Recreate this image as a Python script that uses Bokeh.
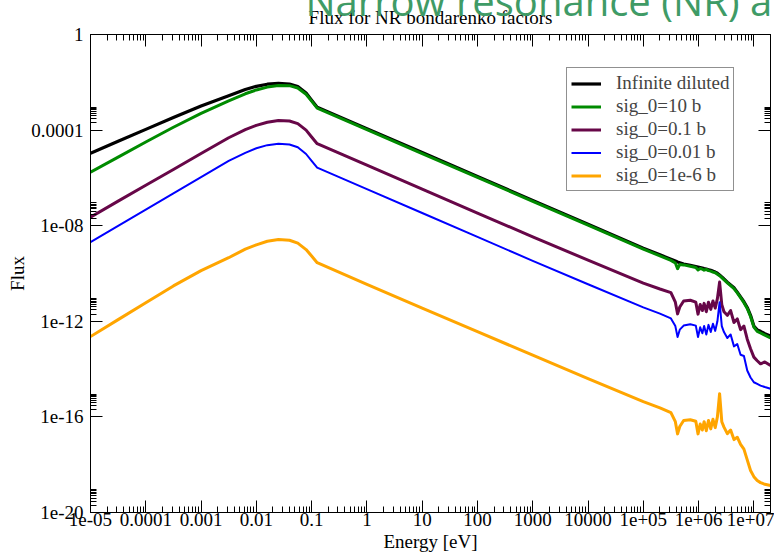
import numpy as np
from bokeh.plotting import figure
from bokeh.models import (Range1d, LogAxis, FixedTicker, CustomJSTickFormatter,
                          Legend, LegendItem, Title)
from bokeh.embed import file_html
from bokeh.resources import INLINE

# ---------------- data ----------------
energy_eV = [1e-5, 3.16e-5, 1e-4, 3.16e-4, 1e-3, 3.16e-3, 6.31e-3, 1e-2, 1.58e-2, 2.51e-2,
             3.98e-2, 5.62e-2, 7.94e-2, 0.1, 0.126, 1, 10, 100, 1e3, 1e4,
             1e5, 2e5, 3.16e5, 3.8e5, 4.17e5, 4.57e5, 5.37e5, 7.08e5, 8.91e5, 9.77e5,
             1.07e6, 1.17e6, 1.26e6, 1.38e6, 1.51e6, 1.66e6, 1.82e6, 2e6, 2.19e6, 2.4e6,
             2.63e6, 2.88e6, 3.31e6, 3.8e6, 4.37e6, 5.01e6, 5.75e6, 6.61e6, 7.59e6, 8.71e6,
             1e7, 1.15e7, 1.32e7, 1.58e7, 2e7]

# log10 of the flux
log_flux_inf = [-4.97, -4.47, -3.97, -3.47, -2.99, -2.56, -2.30, -2.17, -2.08, -2.04,
                -2.07, -2.18, -2.45, -2.75, -3.04, -3.94, -4.94, -5.94, -6.94, -7.94,
                -8.94, -9.22, -9.40, -9.48, -9.52, -9.55, -9.60, -9.66, -9.71, -9.73,
                -9.75, -9.77, -9.79, -9.81, -9.84, -9.87, -9.90, -9.94, -9.99, -10.06,
                -10.14, -10.23, -10.36, -10.48, -10.60, -10.78, -10.98, -11.18, -11.42, -11.75,
                -12.20, -12.36, -12.42, -12.52, -12.62]
log_flux_10b = [-5.76, -5.13, -4.50, -3.88, -3.30, -2.78, -2.48, -2.32, -2.20, -2.13,
                -2.14, -2.24, -2.50, -2.79, -3.08, -3.98, -4.98, -5.98, -6.98, -7.98,
                -8.98, -9.26, -9.45, -9.56, -9.80, -9.62, -9.64, -9.70, -9.75, -9.85,
                -9.79, -9.82, -9.86, -9.83, -9.88, -9.90, -9.94, -9.97, -10.03, -10.09,
                -10.17, -10.26, -10.39, -10.51, -10.63, -10.81, -11.01, -11.22, -11.46, -11.80,
                -12.24, -12.42, -12.49, -12.58, -12.70]
log_flux_01b = [-7.64, -6.97, -6.31, -5.65, -4.98, -4.32, -3.98, -3.80, -3.67, -3.60,
                -3.62, -3.73, -4.00, -4.29, -4.57, -5.47, -6.47, -7.47, -8.47, -9.44,
                -10.40, -10.65, -10.80, -11.20, -11.69, -11.40, -11.15, -11.12, -11.20, -11.70,
                -11.30, -11.55, -11.25, -11.60, -11.20, -11.50, -11.15, -11.45, -11.05, -10.36,
                -11.30, -11.60, -11.75, -11.55, -12.05, -11.90, -12.35, -12.20, -12.75, -13.15,
                -13.50, -13.65, -13.78, -13.70, -13.85]
log_flux_001b = [-8.69, -8.01, -7.33, -6.65, -5.97, -5.29, -4.95, -4.76, -4.63, -4.57,
                 -4.60, -4.72, -5.00, -5.29, -5.57, -6.47, -7.47, -8.47, -9.47, -10.45,
                 -11.42, -11.68, -11.88, -12.20, -12.66, -12.35, -12.18, -12.12, -12.18, -12.66,
                 -12.25, -12.50, -12.20, -12.55, -12.15, -12.45, -12.10, -12.40, -12.00, -11.20,
                 -12.20, -12.45, -12.70, -12.55, -13.05, -12.95, -13.40, -13.45, -14.06, -14.35,
                 -14.55, -14.62, -14.69, -14.75, -14.82]
log_flux_1em6b = [-12.64, -11.93, -11.22, -10.52, -9.88, -9.34, -8.98, -8.80, -8.65, -8.58,
                  -8.61, -8.73, -9.00, -9.27, -9.55, -10.45, -11.45, -12.43, -13.42, -14.40,
                  -15.36, -15.62, -15.82, -16.20, -16.71, -16.40, -16.15, -16.12, -16.18, -16.71,
                  -16.30, -16.55, -16.20, -16.58, -16.15, -16.50, -16.10, -16.45, -16.00, -15.03,
                  -16.20, -16.43, -16.70, -16.55, -16.95, -16.85, -17.15, -17.35, -17.80, -18.24,
                  -18.50, -18.66, -18.75, -18.82, -18.87]

series_labels = ["Infinite diluted", "sig_0=10 b", "sig_0=0.1 b", "sig_0=0.01 b", "sig_0=1e-6 b"]

x_tick_values = [1e-5, 1e-4, 1e-3, 1e-2, 1e-1, 1, 10, 100, 1e3, 1e4, 1e5, 1e6, 1e7]
x_tick_labels = ["1e-05", "0.0001", "0.001", "0.01", "0.1", "1", "10", "100", "1000",
                 "10000", "1e+05", "1e+06", "1e+07"]
y_tick_values = [1e-20, 1e-16, 1e-12, 1e-8, 1e-4, 1]
y_tick_labels = ["1e-20", "1e-16", "1e-12", "1e-08", "0.0001", "1"]

title_text = "Flux for NR bondarenko factors"
x_title = "Energy [eV]"
y_title = "Flux"
slide_header = "Narrow resonance (NR) a"

# ---------------- styles ----------------
colors = ["#000000", "#008b00", "#670748", "#0000ff", "#ffa500"]
widths = [3.2, 3, 3, 2, 3]
SERIF = "Liberation Serif"

x_minor = [k * 10.0 ** n for n in range(-5, 8) for k in range(2, 10)]
y_minor = [k * 10.0 ** n for n in (-20, -16, -12, -8, -4) for k in range(2, 10)]

p = figure(width=774, height=554, x_axis_type="log", y_axis_type="log",
           x_range=Range1d(1e-5, 2e7), y_range=Range1d(1e-20, 1),
           title=None, output_backend="svg", toolbar_location=None,
           min_border_left=90, min_border_right=4, min_border_top=34, min_border_bottom=42)
p.xgrid.visible = False
p.ygrid.visible = False
p.outline_line_color = "black"
p.outline_line_width = 1
p.background_fill_color = "white"
p.border_fill_color = "white"

fmt_code = """
let best = 0; let bd = Infinity;
for (let i = 0; i < vals.length; i++) {
  const d = Math.abs(Math.log10(tick) - Math.log10(vals[i]));
  if (d < bd) { bd = d; best = i; }
}
return labels[best];
"""


def style_axis(ax):
    ax.major_tick_in = 12
    ax.major_tick_out = 0
    ax.minor_tick_in = 6
    ax.minor_tick_out = 0
    ax.major_tick_line_color = "black"
    ax.minor_tick_line_color = "black"
    ax.axis_line_color = "black"
    ax.axis_line_width = 1
    ax.major_label_text_font = SERIF
    ax.major_label_text_font_size = "19px"
    ax.major_label_text_color = "black"
    ax.axis_label_text_font = SERIF
    ax.axis_label_text_font_size = "19px"
    ax.axis_label_text_font_style = "normal"
    ax.axis_label_text_color = "black"


xa = p.xaxis[0]
xa.ticker = FixedTicker(ticks=x_tick_values, minor_ticks=x_minor)
xa.formatter = CustomJSTickFormatter(args=dict(vals=x_tick_values, labels=x_tick_labels), code=fmt_code)
style_axis(xa)
xa.major_label_standoff = 0
xa.axis_label = x_title
xa.axis_label_standoff = 2

ya = p.yaxis[0]
ya.ticker = FixedTicker(ticks=y_tick_values, minor_ticks=y_minor)
ya.formatter = CustomJSTickFormatter(args=dict(vals=y_tick_values, labels=y_tick_labels), code=fmt_code)
style_axis(ya)
ya.major_label_standoff = 7
ya.axis_label = y_title
ya.axis_label_standoff = 0

for place, tv, mv in (("above", x_tick_values, x_minor), ("right", y_tick_values, y_minor)):
    ax = LogAxis(ticker=FixedTicker(ticks=tv, minor_ticks=mv),
                 formatter=CustomJSTickFormatter(code="return ''"))
    style_axis(ax)
    ax.major_label_standoff = 0
    ax.major_label_text_font_size = "1px"
    p.add_layout(ax, place)

# title above the top axis, slide header outermost (mostly above the page)
p.add_layout(Title(text=title_text, align="center", vertical_align="top", text_font=SERIF,
                   text_font_size="19px", text_font_style="normal", text_color="black",
                   standoff=10), "above")
p.add_layout(Title(text=slide_header, align="left", offset=215, vertical_align="top",
                   text_font="Open Sans", text_font_size="40px", text_font_style="normal",
                   text_color="#3f9b66", standoff=-57), "above")

all_series = [log_flux_inf, log_flux_10b, log_flux_01b, log_flux_001b, log_flux_1em6b]
items = []
for lab, lf, c, w in zip(series_labels, all_series, colors, widths):
    r = p.line(energy_eV, 10.0 ** np.array(lf), line_color=c, line_width=w, line_join="round")
    items.append(LegendItem(label=lab, renderers=[r]))

legend = Legend(items=items, location=(476, 321), margin=0, padding=4, spacing=1,
                glyph_width=30, glyph_height=21, label_height=21, label_standoff=15,
                label_text_font=SERIF, label_text_font_size="19px",
                border_line_color="#222222", border_line_width=1,
                background_fill_color="white", background_fill_alpha=1)
p.add_layout(legend)

open("out.html", "w").write(file_html(p, INLINE))
